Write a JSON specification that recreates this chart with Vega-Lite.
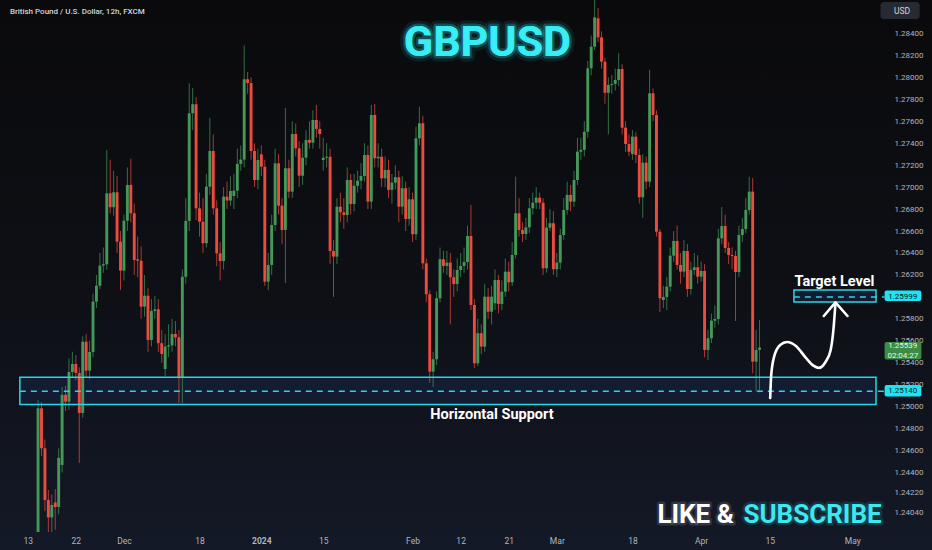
{
"$schema":"https://vega.github.io/schema/vega-lite/v6.json",
"width":932,"height":550,"autosize":{"type":"none"},
"padding":0,
"background":"#0b0b0d",
"view":{"stroke":null,"fill":{"gradient":"linear","x1":0,"y1":0,"x2":0,"y2":1,"stops":[{"offset":0,"color":"#0a0a0c"},{"offset":0.55,"color":"#0e1016"},{"offset":1,"color":"#141927"}]}},
"config":{"view":{"stroke":null},"font":"Roboto, sans-serif","axis":{"labelOverlap":false}},
"datasets":{
"candles":[
{"i":3,"o":1.2285,"h":1.2506,"l":1.2272,"c":1.24985},
{"i":4,"o":1.24985,"h":1.2504,"l":1.2455,"c":1.24621},
{"i":5,"o":1.24621,"h":1.247,"l":1.2405,"c":1.2415},
{"i":6,"o":1.2415,"h":1.2424,"l":1.2375,"c":1.23991},
{"i":7,"o":1.23991,"h":1.242,"l":1.2384,"c":1.24104},
{"i":8,"o":1.24127,"h":1.2425,"l":1.2388,"c":1.24086},
{"i":9,"o":1.24086,"h":1.2462,"l":1.2402,"c":1.24533},
{"i":10,"o":1.24469,"h":1.2518,"l":1.244,"c":1.25107},
{"i":11,"o":1.25107,"h":1.2519,"l":1.2496,"c":1.25046},
{"i":12,"o":1.25046,"h":1.2544,"l":1.2497,"c":1.25316},
{"i":13,"o":1.25316,"h":1.255,"l":1.2527,"c":1.25389},
{"i":14,"o":1.25389,"h":1.2547,"l":1.2524,"c":1.25307},
{"i":15,"o":1.25307,"h":1.2536,"l":1.24487,"c":1.24943},
{"i":16,"o":1.24943,"h":1.2564,"l":1.249,"c":1.25592},
{"i":17,"o":1.25592,"h":1.2566,"l":1.2527,"c":1.25328},
{"i":18,"o":1.25328,"h":1.256,"l":1.2525,"c":1.25498},
{"i":19,"o":1.25498,"h":1.2603,"l":1.2545,"c":1.25957},
{"i":20,"o":1.25957,"h":1.262,"l":1.259,"c":1.26102},
{"i":21,"o":1.26102,"h":1.264,"l":1.2607,"c":1.26285},
{"i":22,"o":1.26285,"h":1.2645,"l":1.2622,"c":1.26297},
{"i":23,"o":1.26297,"h":1.27339,"l":1.2625,"c":1.26944},
{"i":24,"o":1.26944,"h":1.2725,"l":1.2676,"c":1.26817},
{"i":25,"o":1.26817,"h":1.2715,"l":1.2674,"c":1.26953},
{"i":26,"o":1.26953,"h":1.271,"l":1.264,"c":1.26503},
{"i":27,"o":1.26503,"h":1.266,"l":1.26063,"c":1.26239},
{"i":28,"o":1.26239,"h":1.2675,"l":1.2615,"c":1.26694},
{"i":29,"o":1.26694,"h":1.2718,"l":1.266,"c":1.2702},
{"i":30,"o":1.2702,"h":1.2726,"l":1.2668,"c":1.26762},
{"i":31,"o":1.26762,"h":1.2685,"l":1.262,"c":1.26336},
{"i":32,"o":1.26343,"h":1.2655,"l":1.2618,"c":1.2633},
{"i":33,"o":1.2633,"h":1.2646,"l":1.258,"c":1.25911},
{"i":34,"o":1.25911,"h":1.262,"l":1.2582,"c":1.26011},
{"i":35,"o":1.26011,"h":1.2608,"l":1.255,"c":1.25608},
{"i":36,"o":1.25608,"h":1.2598,"l":1.2555,"c":1.25872},
{"i":37,"o":1.25872,"h":1.2601,"l":1.258,"c":1.25887},
{"i":38,"o":1.25887,"h":1.2598,"l":1.255,"c":1.25578},
{"i":39,"o":1.25578,"h":1.257,"l":1.254,"c":1.2548},
{"i":40,"o":1.25343,"h":1.2566,"l":1.2528,"c":1.25547},
{"i":41,"o":1.25547,"h":1.2575,"l":1.2545,"c":1.25559},
{"i":42,"o":1.25559,"h":1.258,"l":1.255,"c":1.25662},
{"i":43,"o":1.25662,"h":1.2578,"l":1.2555,"c":1.25632},
{"i":44,"o":1.25632,"h":1.257,"l":1.25034,"c":1.25268},
{"i":45,"o":1.25268,"h":1.2625,"l":1.2503,"c":1.26184},
{"i":46,"o":1.26184,"h":1.269,"l":1.2612,"c":1.26692},
{"i":47,"o":1.26692,"h":1.27946,"l":1.266,"c":1.27673},
{"i":48,"o":1.27673,"h":1.27903,"l":1.2752,"c":1.27755},
{"i":49,"o":1.27755,"h":1.2782,"l":1.267,"c":1.26807},
{"i":50,"o":1.26807,"h":1.2695,"l":1.2655,"c":1.26685},
{"i":51,"o":1.26685,"h":1.269,"l":1.264,"c":1.26489},
{"i":52,"o":1.26489,"h":1.2712,"l":1.2645,"c":1.27004},
{"i":53,"o":1.27004,"h":1.2763,"l":1.2693,"c":1.27329},
{"i":54,"o":1.27329,"h":1.2748,"l":1.2675,"c":1.26807},
{"i":55,"o":1.26807,"h":1.2688,"l":1.2628,"c":1.26397},
{"i":56,"o":1.26397,"h":1.265,"l":1.2615,"c":1.26327},
{"i":57,"o":1.26327,"h":1.27,"l":1.2625,"c":1.26913},
{"i":58,"o":1.26913,"h":1.2705,"l":1.268,"c":1.26878},
{"i":59,"o":1.26878,"h":1.271,"l":1.2683,"c":1.26965},
{"i":60,"o":1.26919,"h":1.2712,"l":1.268,"c":1.26968},
{"i":61,"o":1.26968,"h":1.2735,"l":1.269,"c":1.27212},
{"i":62,"o":1.27212,"h":1.2738,"l":1.2715,"c":1.27251},
{"i":63,"o":1.27251,"h":1.2829,"l":1.2718,"c":1.27983},
{"i":64,"o":1.27983,"h":1.2805,"l":1.2785,"c":1.27949},
{"i":65,"o":1.27949,"h":1.28,"l":1.2725,"c":1.27329},
{"i":66,"o":1.27329,"h":1.274,"l":1.27,"c":1.27065},
{"i":67,"o":1.27065,"h":1.2735,"l":1.2698,"c":1.27247},
{"i":68,"o":1.27299,"h":1.2738,"l":1.271,"c":1.27186},
{"i":69,"o":1.27186,"h":1.2725,"l":1.261,"c":1.26139},
{"i":70,"o":1.26139,"h":1.264,"l":1.2606,"c":1.26291},
{"i":71,"o":1.26291,"h":1.2675,"l":1.262,"c":1.26655},
{"i":72,"o":1.26655,"h":1.2735,"l":1.266,"c":1.27217},
{"i":73,"o":1.27217,"h":1.273,"l":1.2675,"c":1.26831},
{"i":74,"o":1.26831,"h":1.269,"l":1.2648,"c":1.2661},
{"i":75,"o":1.2661,"h":1.27721,"l":1.26127,"c":1.27172},
{"i":76,"o":1.27172,"h":1.2725,"l":1.269,"c":1.26959},
{"i":77,"o":1.26959,"h":1.276,"l":1.269,"c":1.27484},
{"i":78,"o":1.27484,"h":1.2758,"l":1.2728,"c":1.27354},
{"i":79,"o":1.27354,"h":1.2742,"l":1.27,"c":1.27104},
{"i":80,"o":1.27104,"h":1.274,"l":1.2702,"c":1.27268},
{"i":81,"o":1.27268,"h":1.2752,"l":1.272,"c":1.2743},
{"i":82,"o":1.2743,"h":1.276,"l":1.2735,"c":1.27405},
{"i":83,"o":1.27405,"h":1.277,"l":1.2735,"c":1.27612},
{"i":84,"o":1.27612,"h":1.2775,"l":1.2745,"c":1.2753},
{"i":85,"o":1.2753,"h":1.276,"l":1.2735,"c":1.27484},
{"i":86,"o":1.27247,"h":1.2745,"l":1.2715,"c":1.27268},
{"i":87,"o":1.27268,"h":1.274,"l":1.2718,"c":1.27277},
{"i":88,"o":1.27277,"h":1.2735,"l":1.263,"c":1.26418},
{"i":89,"o":1.26418,"h":1.2652,"l":1.26,"c":1.26367},
{"i":90,"o":1.26367,"h":1.269,"l":1.263,"c":1.26822},
{"i":91,"o":1.26822,"h":1.2695,"l":1.2668,"c":1.26771},
{"i":92,"o":1.26771,"h":1.269,"l":1.2662,"c":1.26746},
{"i":93,"o":1.26746,"h":1.2718,"l":1.2668,"c":1.27065},
{"i":94,"o":1.27065,"h":1.2712,"l":1.2675,"c":1.26847},
{"i":95,"o":1.26847,"h":1.2712,"l":1.2678,"c":1.27013},
{"i":96,"o":1.27013,"h":1.2715,"l":1.2695,"c":1.27059},
{"i":97,"o":1.27059,"h":1.2722,"l":1.2698,"c":1.27102},
{"i":98,"o":1.27102,"h":1.274,"l":1.2705,"c":1.27293},
{"i":99,"o":1.27293,"h":1.2738,"l":1.268,"c":1.26868},
{"i":100,"o":1.26868,"h":1.27748,"l":1.268,"c":1.27657},
{"i":101,"o":1.27657,"h":1.27758,"l":1.2718,"c":1.27263},
{"i":102,"o":1.27263,"h":1.274,"l":1.2718,"c":1.27277},
{"i":103,"o":1.27277,"h":1.2735,"l":1.27,"c":1.27081},
{"i":104,"o":1.27081,"h":1.2728,"l":1.27,"c":1.27156},
{"i":105,"o":1.27156,"h":1.2725,"l":1.269,"c":1.26975},
{"i":106,"o":1.26975,"h":1.2712,"l":1.2685,"c":1.27041},
{"i":107,"o":1.27041,"h":1.272,"l":1.2698,"c":1.2709},
{"i":108,"o":1.2709,"h":1.2715,"l":1.2668,"c":1.26822},
{"i":109,"o":1.26822,"h":1.271,"l":1.2675,"c":1.2699},
{"i":110,"o":1.2699,"h":1.2705,"l":1.266,"c":1.2671},
{"i":111,"o":1.2671,"h":1.27,"l":1.2665,"c":1.26889},
{"i":112,"o":1.26889,"h":1.2695,"l":1.265,"c":1.26571},
{"i":113,"o":1.26571,"h":1.2755,"l":1.2652,"c":1.27445},
{"i":114,"o":1.27445,"h":1.27733,"l":1.2738,"c":1.27582},
{"i":115,"o":1.27582,"h":1.2765,"l":1.2625,"c":1.26306},
{"i":116,"o":1.26306,"h":1.2635,"l":1.2595,"c":1.26024},
{"i":117,"o":1.26024,"h":1.2606,"l":1.25216,"c":1.25319},
{"i":118,"o":1.25319,"h":1.255,"l":1.2518,"c":1.25432},
{"i":119,"o":1.25432,"h":1.2605,"l":1.2538,"c":1.25988},
{"i":120,"o":1.25988,"h":1.2645,"l":1.2595,"c":1.26343},
{"i":121,"o":1.26343,"h":1.2642,"l":1.2622,"c":1.26282},
{"i":122,"o":1.26282,"h":1.2642,"l":1.262,"c":1.26312},
{"i":123,"o":1.26312,"h":1.264,"l":1.2575,"c":1.26179},
{"i":124,"o":1.26179,"h":1.2625,"l":1.26,"c":1.26118},
{"i":125,"o":1.26118,"h":1.2635,"l":1.2605,"c":1.26245},
{"i":126,"o":1.26245,"h":1.264,"l":1.2618,"c":1.26282},
{"i":127,"o":1.26282,"h":1.2645,"l":1.2622,"c":1.26318},
{"i":128,"o":1.26318,"h":1.2665,"l":1.2625,"c":1.26555},
{"i":129,"o":1.26555,"h":1.26838,"l":1.2588,"c":1.25926},
{"i":130,"o":1.25926,"h":1.2598,"l":1.2535,"c":1.25395},
{"i":131,"o":1.25395,"h":1.258,"l":1.2537,"c":1.25669},
{"i":132,"o":1.25669,"h":1.2575,"l":1.2548,"c":1.25547},
{"i":133,"o":1.25547,"h":1.2612,"l":1.255,"c":1.26002},
{"i":134,"o":1.26002,"h":1.2608,"l":1.258,"c":1.25865},
{"i":135,"o":1.25865,"h":1.261,"l":1.2575,"c":1.26002},
{"i":136,"o":1.25942,"h":1.2625,"l":1.2588,"c":1.26154},
{"i":137,"o":1.26154,"h":1.262,"l":1.2585,"c":1.25936},
{"i":138,"o":1.25936,"h":1.2615,"l":1.2588,"c":1.26048},
{"i":139,"o":1.26048,"h":1.2635,"l":1.26,"c":1.2623},
{"i":140,"o":1.2623,"h":1.2632,"l":1.2605,"c":1.26133},
{"i":141,"o":1.26133,"h":1.265,"l":1.261,"c":1.26382},
{"i":142,"o":1.26382,"h":1.27095,"l":1.2635,"c":1.26762},
{"i":143,"o":1.26762,"h":1.269,"l":1.2655,"c":1.2661},
{"i":144,"o":1.2661,"h":1.2668,"l":1.265,"c":1.26573},
{"i":145,"o":1.26573,"h":1.2672,"l":1.2652,"c":1.26634},
{"i":146,"o":1.26634,"h":1.269,"l":1.2658,"c":1.26807},
{"i":147,"o":1.26807,"h":1.2695,"l":1.2675,"c":1.26858},
{"i":148,"o":1.26858,"h":1.27,"l":1.268,"c":1.26904},
{"i":149,"o":1.26904,"h":1.2695,"l":1.268,"c":1.26858},
{"i":150,"o":1.26858,"h":1.269,"l":1.262,"c":1.26261},
{"i":151,"o":1.26261,"h":1.2672,"l":1.2622,"c":1.26631},
{"i":152,"o":1.26631,"h":1.268,"l":1.266,"c":1.26671},
{"i":153,"o":1.26671,"h":1.2678,"l":1.262,"c":1.26252},
{"i":154,"o":1.26252,"h":1.264,"l":1.2618,"c":1.26312},
{"i":155,"o":1.26312,"h":1.2662,"l":1.2625,"c":1.26564},
{"i":156,"o":1.26564,"h":1.269,"l":1.2652,"c":1.26792},
{"i":157,"o":1.26792,"h":1.2705,"l":1.2675,"c":1.26929},
{"i":158,"o":1.26929,"h":1.2702,"l":1.2678,"c":1.26868},
{"i":159,"o":1.26868,"h":1.2715,"l":1.2682,"c":1.27065},
{"i":160,"o":1.27065,"h":1.2745,"l":1.2702,"c":1.27323},
{"i":161,"o":1.27323,"h":1.2745,"l":1.2725,"c":1.2734},
{"i":162,"o":1.2734,"h":1.276,"l":1.2728,"c":1.27505},
{"i":163,"o":1.27505,"h":1.2815,"l":1.2745,"c":1.28083},
{"i":164,"o":1.28083,"h":1.2838,"l":1.2802,"c":1.2828},
{"i":165,"o":1.2828,"h":1.288,"l":1.2825,"c":1.28547},
{"i":166,"o":1.28538,"h":1.28632,"l":1.2832,"c":1.28365},
{"i":167,"o":1.28365,"h":1.2842,"l":1.2808,"c":1.28143},
{"i":168,"o":1.28143,"h":1.2818,"l":1.2776,"c":1.2786},
{"i":169,"o":1.2786,"h":1.28,"l":1.2748,"c":1.27931},
{"i":170,"o":1.27931,"h":1.2802,"l":1.2785,"c":1.2794},
{"i":171,"o":1.2794,"h":1.2808,"l":1.2788,"c":1.27976},
{"i":172,"o":1.27976,"h":1.2822,"l":1.2792,"c":1.28076},
{"i":173,"o":1.28076,"h":1.2812,"l":1.2748,"c":1.27542},
{"i":174,"o":1.27542,"h":1.276,"l":1.2732,"c":1.27393},
{"i":175,"o":1.27393,"h":1.2748,"l":1.2728,"c":1.27323},
{"i":176,"o":1.27302,"h":1.2752,"l":1.2725,"c":1.2746},
{"i":177,"o":1.2746,"h":1.275,"l":1.2722,"c":1.27293},
{"i":178,"o":1.27293,"h":1.2735,"l":1.2685,"c":1.26908},
{"i":179,"o":1.26908,"h":1.273,"l":1.2672,"c":1.27223},
{"i":180,"o":1.27223,"h":1.2728,"l":1.2698,"c":1.2705},
{"i":181,"o":1.2705,"h":1.28067,"l":1.27,"c":1.27855},
{"i":182,"o":1.27855,"h":1.279,"l":1.276,"c":1.27657},
{"i":183,"o":1.27657,"h":1.277,"l":1.2655,"c":1.26594},
{"i":184,"o":1.26594,"h":1.2662,"l":1.25863,"c":1.25988},
{"i":185,"o":1.25972,"h":1.261,"l":1.259,"c":1.25999},
{"i":186,"o":1.25999,"h":1.2618,"l":1.2588,"c":1.26093},
{"i":187,"o":1.26093,"h":1.2645,"l":1.2605,"c":1.26376},
{"i":188,"o":1.26376,"h":1.266,"l":1.2632,"c":1.2651},
{"i":189,"o":1.2651,"h":1.2665,"l":1.2625,"c":1.26291},
{"i":190,"o":1.26291,"h":1.264,"l":1.2612,"c":1.2623},
{"i":191,"o":1.2623,"h":1.2652,"l":1.2618,"c":1.26418},
{"i":192,"o":1.26418,"h":1.2648,"l":1.26,"c":1.26072},
{"i":193,"o":1.26072,"h":1.2632,"l":1.2602,"c":1.26245},
{"i":194,"o":1.26245,"h":1.264,"l":1.262,"c":1.2627},
{"i":195,"o":1.2627,"h":1.2638,"l":1.2612,"c":1.26184},
{"i":196,"o":1.26184,"h":1.2632,"l":1.2614,"c":1.26236},
{"i":197,"o":1.26236,"h":1.263,"l":1.2545,"c":1.25517},
{"i":198,"o":1.25517,"h":1.257,"l":1.25425,"c":1.25623},
{"i":199,"o":1.25623,"h":1.2585,"l":1.2558,"c":1.25783},
{"i":200,"o":1.25783,"h":1.2592,"l":1.2572,"c":1.25799},
{"i":201,"o":1.25799,"h":1.2662,"l":1.2575,"c":1.26534},
{"i":202,"o":1.26534,"h":1.2682,"l":1.2648,"c":1.26646},
{"i":203,"o":1.26646,"h":1.2675,"l":1.264,"c":1.26446},
{"i":204,"o":1.26446,"h":1.265,"l":1.263,"c":1.26382},
{"i":205,"o":1.26382,"h":1.2645,"l":1.2625,"c":1.26373},
{"i":206,"o":1.26373,"h":1.2642,"l":1.2578,"c":1.26227},
{"i":207,"o":1.26227,"h":1.2665,"l":1.2618,"c":1.26564},
{"i":208,"o":1.26564,"h":1.2672,"l":1.265,"c":1.26619},
{"i":209,"o":1.26619,"h":1.269,"l":1.2658,"c":1.26792},
{"i":210,"o":1.26792,"h":1.27095,"l":1.2675,"c":1.26959},
{"i":211,"o":1.26959,"h":1.27083,"l":1.25304,"c":1.2541},
{"i":212,"o":1.2541,"h":1.257,"l":1.2514,"c":1.25517},
{"i":213,"o":1.25517,"h":1.2579,"l":1.2513,"c":1.25539}
],
"zones":[
{"name":"support","x1":-2.3,"x2":246.9,"y1":1.25019,"y2":1.25269,"mid":1.2514,"tx":249.4},
{"name":"target","x1":223.0,"x2":246.9,"y1":1.25954,"y2":1.26063,"mid":1.25999,"tx":249.4}
],
"curve":[
{"o":0,"x":216.1,"y":1.25079},{"o":1,"x":216.4,"y":1.25289},{"o":2,"x":217.3,"y":1.25462},
{"o":3,"x":219.0,"y":1.25562},{"o":4,"x":221.0,"y":1.25589},{"o":5,"x":223.6,"y":1.25553},
{"o":6,"x":226.5,"y":1.25444},{"o":7,"x":228.8,"y":1.25371},{"o":8,"x":230.2,"y":1.25353},
{"o":9,"x":232.2,"y":1.25407},{"o":10,"x":233.7,"y":1.25517},{"o":11,"x":234.5,"y":1.25699},
{"o":12,"x":235.1,"y":1.25945}
],
"arrow":[
{"o":0,"x":231.7,"y":1.25826},{"o":1,"x":235.1,"y":1.2595},{"o":2,"x":238.6,"y":1.25826}
],
"ctags":[
{"t":"1.25999","x1":249.4,"x2":260.1,"tx":254.7,"y1":1.25963,"y2":1.26059,"ty":1.25999},
{"t":"1.25140","x1":249.4,"x2":260.1,"tx":254.7,"y1":1.25093,"y2":1.25198,"ty":1.25145}
],
"gtag":[
{"x1":249.4,"x2":260.1,"y1":1.2543,"y2":1.25589}
],
"gtext":[
{"t":"1.25539","tx":254.7,"ty":1.25553},
{"t":"02:04:27","tx":254.7,"ty":1.25466}
],
"notes":[
{"k":"title","t":"GBPUSD","x":133.8,"y":1.28195},
{"k":"like","t":"LIKE &","x":205.5,"y":1.23941},
{"k":"sub","t":"SUBSCRIBE","x":208.3,"y":1.23941},
{"k":"label","t":"Target Level","x":234.8,"y":1.2610},
{"k":"label","t":"Horizontal Support","x":135.1,"y":1.24888},
{"k":"header","t":"British Pound / U.S. Dollar, 12h, FXCM","x":-5.2,"y":1.28577},
{"k":"usd","t":"USD","x":252.1,"y":1.28605}
],
"usdbox":[{"x1":248.2,"x2":259.6,"y1":1.28532,"y2":1.28687}]
},
"layer":[
{"data":{"name":"zones"},
 "mark":{"type":"rect","color":"#142039","opacity":0.75},
 "encoding":{
  "x":{"field":"x1","type":"quantitative","title":null,"scale":{"domain":[-6.62,248.06],"range":[0,885],"nice":false,"zero":false}},
  "x2":{"field":"x2"},
  "y":{"field":"y1","type":"quantitative","title":null,"scale":{"domain":[1.23858,1.28705],"range":[532,0],"nice":false,"zero":false,"clamp":true}},
  "y2":{"field":"y2"}}},
{"data":{"name":"candles"},
 "mark":{"type":"rule","strokeWidth":1,"opacity":0.7},
 "encoding":{
  "x":{"field":"i","type":"quantitative","title":null,"scale":{"domain":[-6.62,248.06],"range":[0,885],"nice":false,"zero":false}},
  "y":{"field":"l","type":"quantitative","title":null,"scale":{"domain":[1.23858,1.28705],"range":[532,0],"nice":false,"zero":false,"clamp":true}},
  "y2":{"field":"h"},
  "color":{"condition":{"test":"datum.c >= datum.o","value":"#45985a"},"value":"#ee4b40"}}},
{"data":{"name":"candles"},
 "mark":{"type":"bar","size":2.9,"orient":"vertical"},
 "encoding":{
  "x":{"field":"i","type":"quantitative","title":null,"scale":{"domain":[-6.62,248.06],"range":[0,885],"nice":false,"zero":false},
   "axis":{"orient":"bottom","offset":-18,"values":[0,14,28,50,68,86,112,126,140,154,176,196,216,240],"tickCount":40,
    "labelExpr":"['13','22','Dec','18','2024','15','Feb','12','21','Mar','18','Apr','15','May'][indexof([0,14,28,50,68,86,112,126,140,154,176,196,216,240], datum.value)]",
    "domain":false,"ticks":false,"grid":false,"title":null,"labelColor":"#b2b5be","labelFontSize":8.5,"labelPadding":4,"labelFlush":false,"labelOverlap":false,
    "labelFontWeight":{"condition":{"test":"datum.value === 68","value":"bold"},"value":"normal"}}},
  "y":{"field":"o","type":"quantitative","title":null,"scale":{"domain":[1.23858,1.28705],"range":[532,0],"nice":false,"zero":false,"clamp":true},
   "axis":{"orient":"right","offset":-47,"tickCount":60,"values":[1.2404,1.2422,1.244,1.246,1.248,1.25,1.252,1.254,1.256,1.258,1.262,1.264,1.266,1.268,1.27,1.272,1.274,1.276,1.278,1.28,1.282,1.284],
    "format":".5f","domain":false,"ticks":false,"grid":false,"title":null,"labelColor":"#b2b5be","labelFontSize":8,"labelPadding":9,"labelOverlap":false,"labelFlush":false}},
  "y2":{"field":"c"},
  "color":{"condition":{"test":"datum.c >= datum.o","value":"#45985a"},"value":"#ee4b40"}}},
{"data":{"name":"zones"},
 "mark":{"type":"rect","filled":false,"color":"#27d6e4","strokeWidth":1.5},
 "encoding":{
  "x":{"field":"x1","type":"quantitative","title":null,"scale":{"domain":[-6.62,248.06],"range":[0,885],"nice":false,"zero":false}},
  "x2":{"field":"x2"},
  "y":{"field":"y1","type":"quantitative","title":null,"scale":{"domain":[1.23858,1.28705],"range":[532,0],"nice":false,"zero":false,"clamp":true}},
  "y2":{"field":"y2"}}},
{"data":{"name":"zones"},
 "mark":{"type":"rule","color":"#27d6e4","strokeWidth":1.5,"strokeDash":[6,5]},
 "encoding":{
  "x":{"field":"x1","type":"quantitative","title":null,"scale":{"domain":[-6.62,248.06],"range":[0,885],"nice":false,"zero":false}},
  "x2":{"field":"tx"},
  "y":{"field":"mid","type":"quantitative","title":null,"scale":{"domain":[1.23858,1.28705],"range":[532,0],"nice":false,"zero":false,"clamp":true}}}},
{"data":{"name":"curve"},
 "mark":{"type":"line","color":"#ffffff","strokeWidth":2.6,"interpolate":"monotone","strokeCap":"round"},
 "encoding":{
  "x":{"field":"x","type":"quantitative","title":null,"scale":{"domain":[-6.62,248.06],"range":[0,885],"nice":false,"zero":false}},
  "y":{"field":"y","type":"quantitative","title":null,"scale":{"domain":[1.23858,1.28705],"range":[532,0],"nice":false,"zero":false,"clamp":true}},
  "order":{"field":"o"}}},
{"data":{"name":"arrow"},
 "mark":{"type":"line","color":"#ffffff","strokeWidth":2.6,"strokeCap":"round","strokeJoin":"round"},
 "encoding":{
  "x":{"field":"x","type":"quantitative","title":null,"scale":{"domain":[-6.62,248.06],"range":[0,885],"nice":false,"zero":false}},
  "y":{"field":"y","type":"quantitative","title":null,"scale":{"domain":[1.23858,1.28705],"range":[532,0],"nice":false,"zero":false,"clamp":true}},
  "order":{"field":"o"}}},
{"data":{"name":"ctags"},
 "mark":{"type":"rect","color":"#1fe3f0","cornerRadius":2},
 "encoding":{
  "x":{"field":"x1","type":"quantitative","title":null,"scale":{"domain":[-6.62,248.06],"range":[0,885],"nice":false,"zero":false}},
  "x2":{"field":"x2"},
  "y":{"field":"y1","type":"quantitative","title":null,"scale":{"domain":[1.23858,1.28705],"range":[532,0],"nice":false,"zero":false,"clamp":true}},
  "y2":{"field":"y2"}}},
{"data":{"name":"ctags"},
 "mark":{"type":"text","color":"#0a1a1e","fontSize":8,"align":"center","baseline":"middle"},
 "encoding":{
  "x":{"field":"tx","type":"quantitative","title":null,"scale":{"domain":[-6.62,248.06],"range":[0,885],"nice":false,"zero":false}},
  "y":{"field":"ty","type":"quantitative","title":null,"scale":{"domain":[1.23858,1.28705],"range":[532,0],"nice":false,"zero":false,"clamp":true}},
  "text":{"field":"t"}}},
{"data":{"name":"gtag"},
 "mark":{"type":"rect","color":"#3a8c45","cornerRadius":2},
 "encoding":{
  "x":{"field":"x1","type":"quantitative","title":null,"scale":{"domain":[-6.62,248.06],"range":[0,885],"nice":false,"zero":false}},
  "x2":{"field":"x2"},
  "y":{"field":"y1","type":"quantitative","title":null,"scale":{"domain":[1.23858,1.28705],"range":[532,0],"nice":false,"zero":false,"clamp":true}},
  "y2":{"field":"y2"}}},
{"data":{"name":"gtext"},
 "mark":{"type":"text","color":"#e8f5e9","fontSize":8,"align":"center","baseline":"middle"},
 "encoding":{
  "x":{"field":"tx","type":"quantitative","title":null,"scale":{"domain":[-6.62,248.06],"range":[0,885],"nice":false,"zero":false}},
  "y":{"field":"ty","type":"quantitative","title":null,"scale":{"domain":[1.23858,1.28705],"range":[532,0],"nice":false,"zero":false,"clamp":true}},
  "text":{"field":"t"}}},
{"data":{"name":"usdbox"},
 "mark":{"type":"rect","color":"#262a33","cornerRadius":3},
 "encoding":{
  "x":{"field":"x1","type":"quantitative","title":null,"scale":{"domain":[-6.62,248.06],"range":[0,885],"nice":false,"zero":false}},
  "x2":{"field":"x2"},
  "y":{"field":"y1","type":"quantitative","title":null,"scale":{"domain":[1.23858,1.28705],"range":[532,0],"nice":false,"zero":false,"clamp":true}},
  "y2":{"field":"y2"}}},
{"data":{"name":"notes"},
 "transform":[{"filter":"datum.k === 'usd'"}],
 "mark":{"type":"text","color":"#d1d4dc","fontSize":8.5,"align":"left","baseline":"middle"},
 "encoding":{
  "x":{"field":"x","type":"quantitative","title":null,"scale":{"domain":[-6.62,248.06],"range":[0,885],"nice":false,"zero":false}},
  "y":{"field":"y","type":"quantitative","title":null,"scale":{"domain":[1.23858,1.28705],"range":[532,0],"nice":false,"zero":false,"clamp":true}},
  "text":{"field":"t"}}},
{"data":{"name":"notes"},
 "transform":[{"filter":"datum.k === 'header'"}],
 "mark":{"type":"text","color":"#d1d4dc","fontSize":8,"fontWeight":500,"align":"left","baseline":"alphabetic"},
 "encoding":{
  "x":{"field":"x","type":"quantitative","title":null,"scale":{"domain":[-6.62,248.06],"range":[0,885],"nice":false,"zero":false}},
  "y":{"field":"y","type":"quantitative","title":null,"scale":{"domain":[1.23858,1.28705],"range":[532,0],"nice":false,"zero":false,"clamp":true}},
  "text":{"field":"t"}}},
{"data":{"name":"notes"},
 "transform":[{"filter":"datum.k === 'label'"}],
 "mark":{"type":"text","color":"#ffffff","fontSize":14.5,"fontWeight":"bold","align":"center","baseline":"alphabetic"},
 "encoding":{
  "x":{"field":"x","type":"quantitative","title":null,"scale":{"domain":[-6.62,248.06],"range":[0,885],"nice":false,"zero":false}},
  "y":{"field":"y","type":"quantitative","title":null,"scale":{"domain":[1.23858,1.28705],"range":[532,0],"nice":false,"zero":false,"clamp":true}},
  "text":{"field":"t"}}},
{"data":{"name":"notes"},
 "transform":[{"filter":"datum.k === 'title'"}],
 "mark":{"type":"text","color":"#25e6f0","fontSize":43,"fontWeight":"bold","align":"center","baseline":"alphabetic","stroke":"#25e6f0","strokeWidth":11,"strokeOpacity":0.1,"strokeJoin":"round"},
 "encoding":{
  "x":{"field":"x","type":"quantitative","title":null,"scale":{"domain":[-6.62,248.06],"range":[0,885],"nice":false,"zero":false}},
  "y":{"field":"y","type":"quantitative","title":null,"scale":{"domain":[1.23858,1.28705],"range":[532,0],"nice":false,"zero":false,"clamp":true}},
  "text":{"field":"t"}}},
{"data":{"name":"notes"},
 "transform":[{"filter":"datum.k === 'title'"}],
 "mark":{"type":"text","color":"#3ef0f6","fontSize":43,"fontWeight":"bold","align":"center","baseline":"alphabetic","stroke":"#25e6f0","strokeWidth":5,"strokeOpacity":0.25,"strokeJoin":"round"},
 "encoding":{
  "x":{"field":"x","type":"quantitative","title":null,"scale":{"domain":[-6.62,248.06],"range":[0,885],"nice":false,"zero":false}},
  "y":{"field":"y","type":"quantitative","title":null,"scale":{"domain":[1.23858,1.28705],"range":[532,0],"nice":false,"zero":false,"clamp":true}},
  "text":{"field":"t"}}},
{"data":{"name":"notes"},
 "transform":[{"filter":"datum.k === 'like'"}],
 "mark":{"type":"text","color":"#ffffff","fontSize":26,"fontWeight":"bold","align":"right","baseline":"alphabetic","stroke":"#ffffff","strokeWidth":5,"strokeOpacity":0.12,"strokeJoin":"round"},
 "encoding":{
  "x":{"field":"x","type":"quantitative","title":null,"scale":{"domain":[-6.62,248.06],"range":[0,885],"nice":false,"zero":false}},
  "y":{"field":"y","type":"quantitative","title":null,"scale":{"domain":[1.23858,1.28705],"range":[532,0],"nice":false,"zero":false,"clamp":true}},
  "text":{"field":"t"}}},
{"data":{"name":"notes"},
 "transform":[{"filter":"datum.k === 'sub'"}],
 "mark":{"type":"text","color":"#3ce8f2","fontSize":26,"fontWeight":"bold","align":"left","baseline":"alphabetic","stroke":"#3ce8f2","strokeWidth":5,"strokeOpacity":0.15,"strokeJoin":"round"},
 "encoding":{
  "x":{"field":"x","type":"quantitative","title":null,"scale":{"domain":[-6.62,248.06],"range":[0,885],"nice":false,"zero":false}},
  "y":{"field":"y","type":"quantitative","title":null,"scale":{"domain":[1.23858,1.28705],"range":[532,0],"nice":false,"zero":false,"clamp":true}},
  "text":{"field":"t"}}}
]
}
